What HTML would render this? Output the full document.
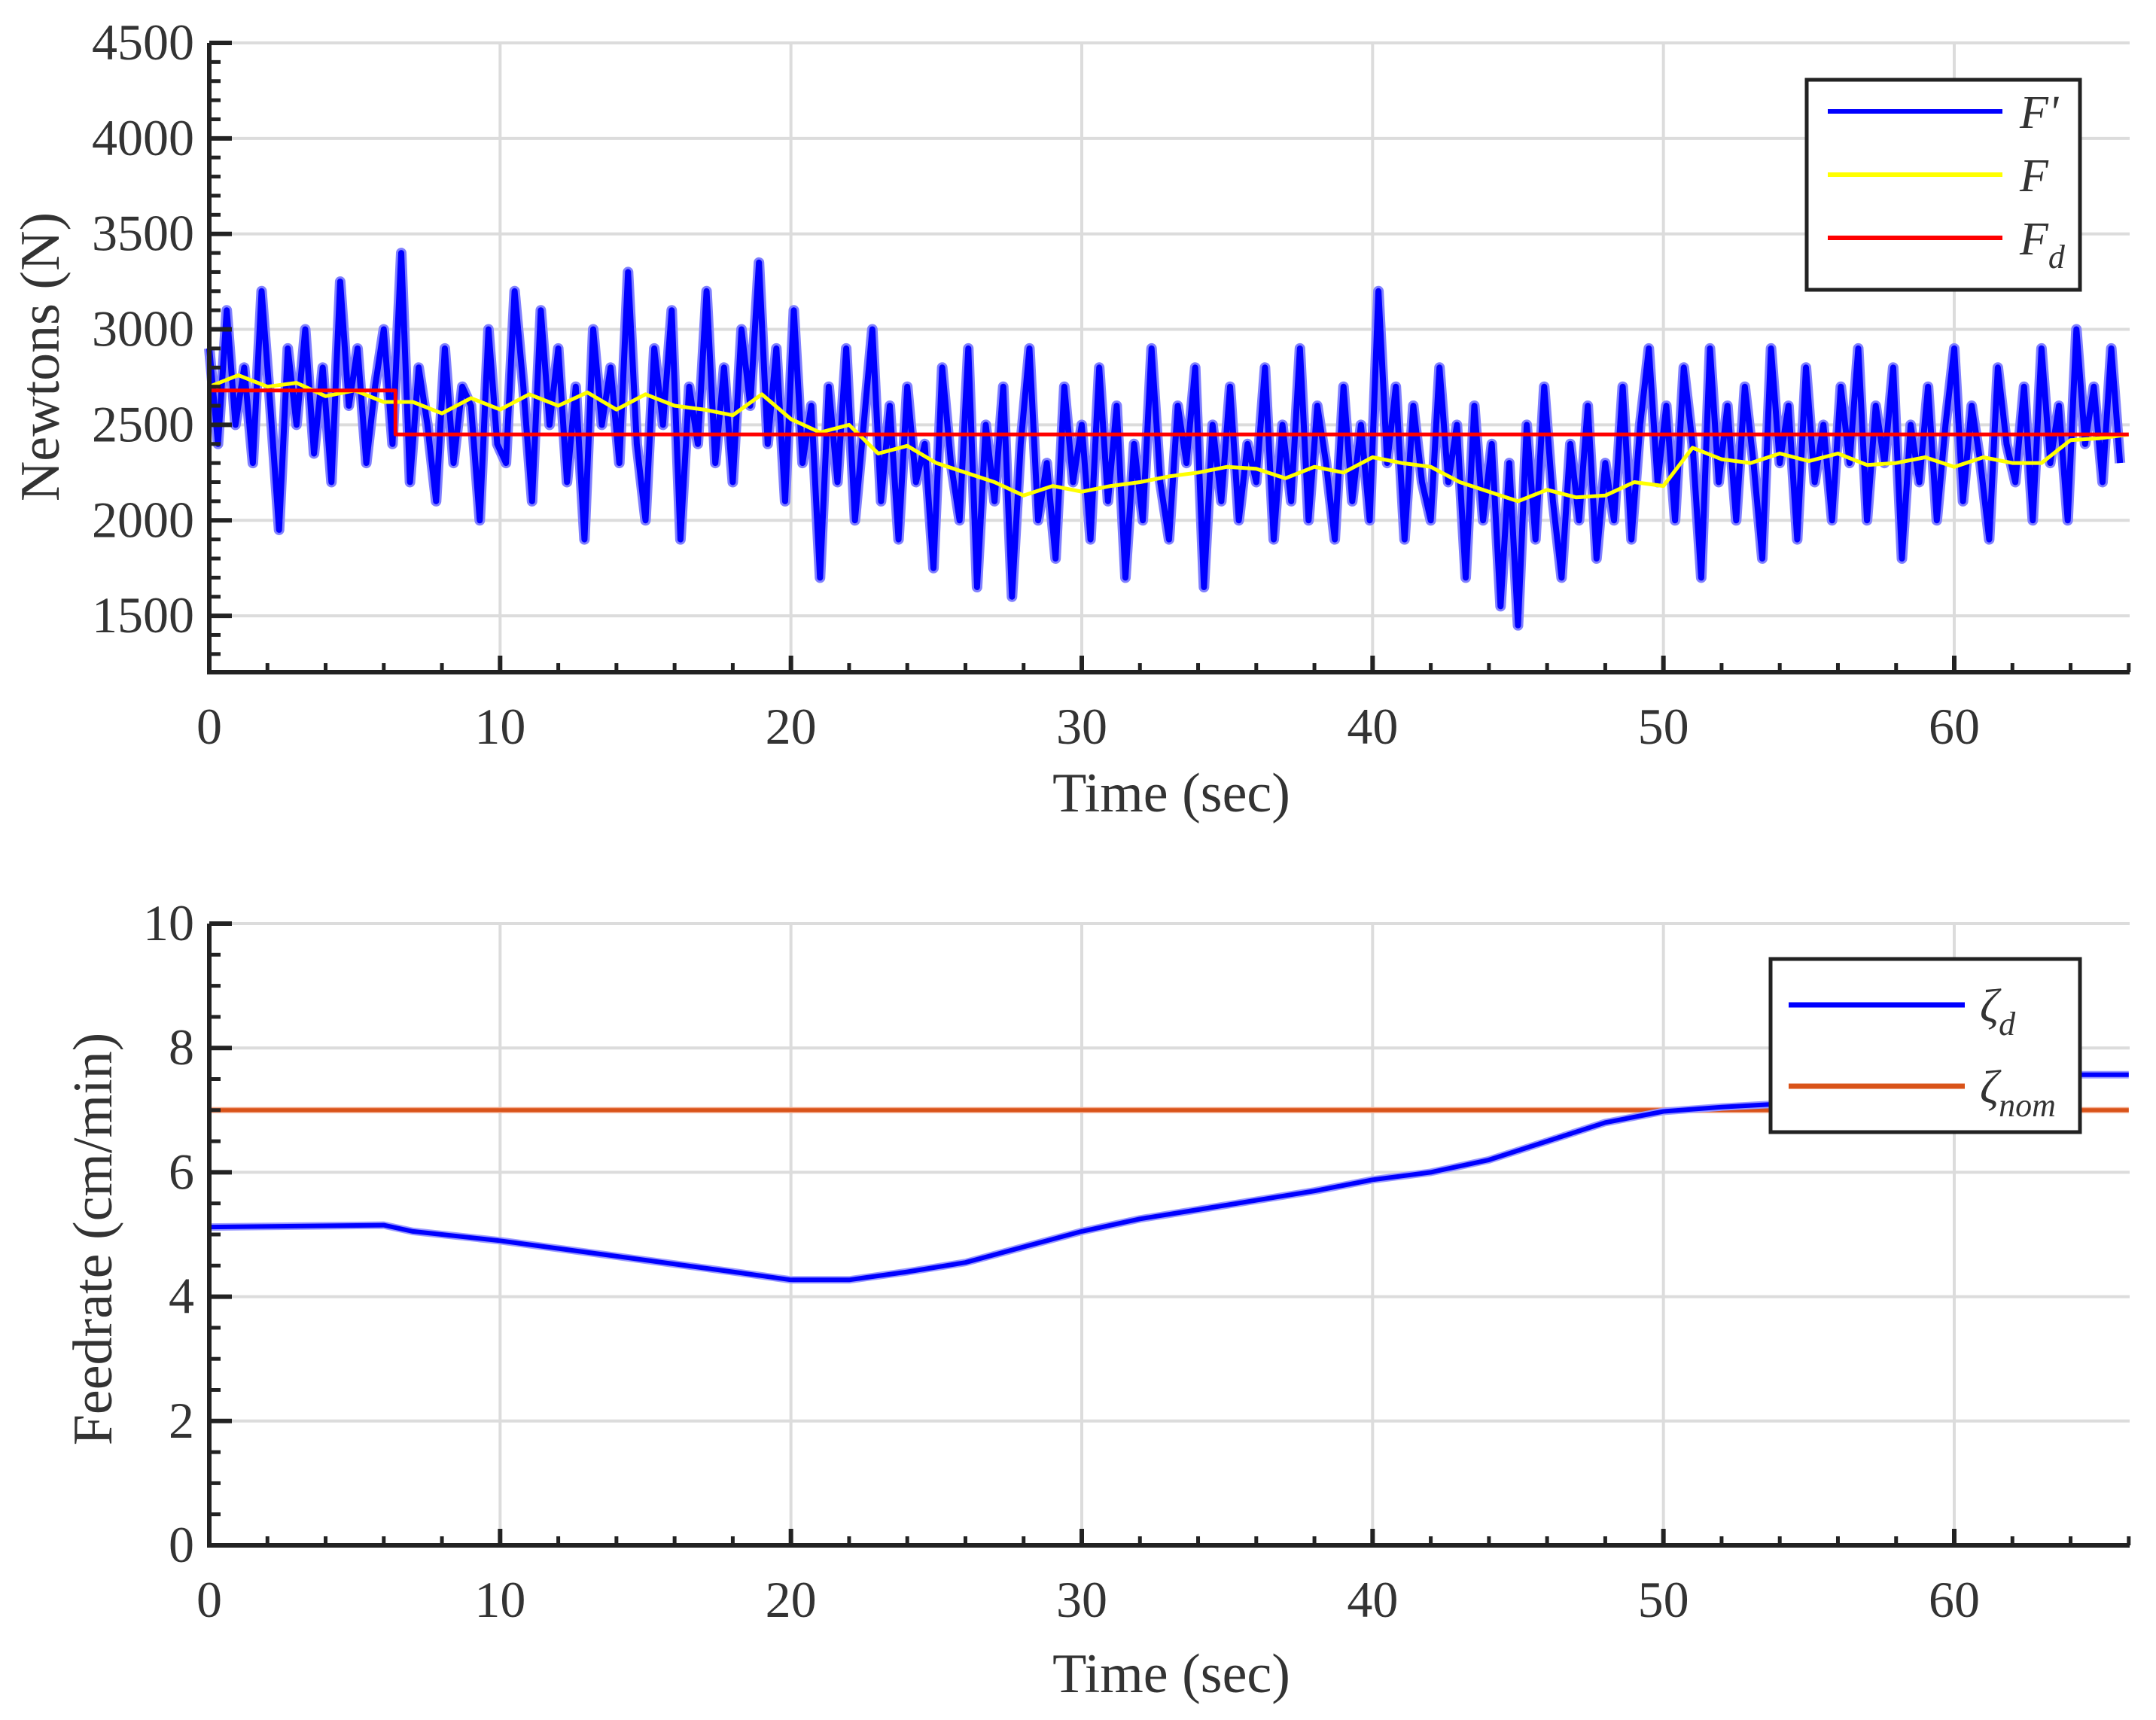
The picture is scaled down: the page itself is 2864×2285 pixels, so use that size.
<!DOCTYPE html>
<html><head><meta charset="utf-8"><style>
html,body{margin:0;padding:0;background:#fff}
svg{display:block}
text{font-family:"Liberation Serif",serif;fill:#333}
</style></head><body>
<svg id="chart" width="2864" height="2285" viewBox="0 0 2864 2285" xmlns="http://www.w3.org/2000/svg">
<g id="top"></g>
<g id="bot"></g>
</svg>
<script>
// ---- data ----
const xTicks = [0,10,20,30,40,50,60];
const topYTicks = [1500,2000,2500,3000,3500,4000,4500];
const botYTicks = [0,2,4,6,8,10];
const fRawDt = 0.3;
const fRaw = [
2900,2400,3100,2500,2800,2300,3200,2600,1950,2900,
2500,3000,2350,2800,2200,3250,2600,2900,2300,2700,
3000,2400,3400,2200,2800,2500,2100,2900,2300,2700,
2600,2000,3000,2400,2300,3200,2700,2100,3100,2500,
2900,2200,2700,1900,3000,2500,2800,2300,3300,2400,
2000,2900,2500,3100,1900,2700,2400,3200,2300,2800,
2200,3000,2600,3350,2400,2900,2100,3100,2300,2600,
1700,2700,2200,2900,2000,2500,3000,2100,2600,1900,
2700,2200,2400,1750,2800,2300,2000,2900,1650,2500,
2100,2700,1600,2400,2900,2000,2300,1800,2700,2200,
2500,1900,2800,2100,2600,1700,2400,2000,2900,2200,
1900,2600,2300,2800,1650,2500,2100,2700,2000,2400,
2200,2800,1900,2500,2100,2900,2000,2600,2300,1900,
2700,2100,2500,2000,3200,2300,2700,1900,2600,2200,
2000,2800,2200,2500,1700,2600,2000,2400,1550,2300,
1450,2500,1900,2700,2100,1700,2400,2000,2600,1800,
2300,2000,2700,1900,2500,2900,2200,2600,2000,2800,
2400,1700,2900,2200,2600,2000,2700,2300,1800,2900,
2300,2600,1900,2800,2200,2500,2000,2700,2300,2900,
2000,2600,2300,2800,1800,2500,2200,2700,2000,2500,
2900,2100,2600,2300,1900,2800,2400,2200,2700,2000,
2900,2300,2600,2000,3000,2400,2700,2200,2900,2300];
const fFiltDt = 1;
const fFilt = [2700,2760,2700,2720,2650,2680,2620,2620,2560,2640,2580,2660,2600,2670,2580,2660,2600,2580,2550,2660,2530,2460,2500,2350,2390,2300,2250,2200,2130,2180,2150,2180,2200,2230,2250,2280,2270,2220,2280,2250,2330,2300,2280,2200,2150,2100,2160,2120,2130,2200,2180,2380,2320,2300,2350,2310,2350,2290,2300,2330,2280,2330,2300,2300,2420,2430,2450];
const fdTimes = [0,6.4,6.4,66];
const fdValues = [2680,2680,2450,2450];
const zetaTimes = [0,6,7,10,14,18,20,22,24,26,28,30,32,34,36,38,40,42,44,46,48,50,52,54,56,58,60,62,64,66];
const zetaValues = [5.12,5.15,5.05,4.9,4.65,4.4,4.27,4.27,4.4,4.55,4.8,5.05,5.25,5.4,5.55,5.7,5.88,6.0,6.2,6.5,6.8,6.98,7.05,7.1,7.2,7.3,7.4,7.5,7.57,7.57];
const zetaNom = 7;

// ---- axes ----
const X0=278, X1=2829;
const xs = t => X0 + t*(2318/60);
const T_TOP=57, T_BOT=893;
const yTop = v => 57 + (4500-v)*0.2537;
const B_TOP=1227, B_BOT=2053;
const yBot = v => 2053 - v*82.6;
const NS="http://www.w3.org/2000/svg";
function mk(parent,tag,attrs,txt){const e=document.createElementNS(NS,tag);for(const k in attrs)e.setAttribute(k,attrs[k]);if(txt!==undefined)e.textContent=txt;parent.appendChild(e);return e;}

function axes(g, yTicks, yf, yTop_, yBot_){
  xTicks.forEach(t=>{const l=mk(g,'line',{x1:xs(t),x2:xs(t),y1:yTop_,y2:yBot_,stroke:'#dcdcdc','stroke-width':4});
    
    });
  yTicks.forEach(v=>{const l=mk(g,'line',{x1:X0,x2:X1,y1:yf(v),y2:yf(v),stroke:'#dcdcdc','stroke-width':4});
    
    });
}
function frame(g, yTicks, yf, yTop_, yBot_, yMinorStep, yMin, yMax){
  const ax=mk(g,'path',{d:`M${X0},${yTop_} V${yBot_} H${X1}`,fill:'none',stroke:'#222','stroke-width':6});
  
  
  for(let t=0;t<=66;t+=2){const major=t%10===0;
    mk(g,'line',{x1:xs(t),x2:xs(t),y1:yBot_,y2:yBot_-(major?22:12),stroke:'#222','stroke-width':major?6:5});}
  for(let v=yMin;v<=yMax+1e-9;v+=yMinorStep){const y=yf(v);if(y<yTop_-1||y>yBot_)continue;
    const major=yTicks.some(k=>Math.abs(k-v)<1e-6);
    mk(g,'line',{x1:X0,x2:X0+(major?30:15),y1:y,y2:y,stroke:'#222','stroke-width':major?6:5});}
  xTicks.forEach(t=>{const e=mk(g,'text',{x:xs(t),y:yBot_+95,'text-anchor':'middle','font-size':68},String(t));
    
    });
  yTicks.forEach(v=>{const e=mk(g,'text',{x:258,y:yf(v)+22,'text-anchor':'end','font-size':68},String(v));
    
    });
}
function poly(g, ts, vs, yf, color, w, name){
  const pts=ts.map((t,i)=>xs(t).toFixed(1)+','+yf(vs[i]).toFixed(1)).join(' ');
  const p=mk(g,'polyline',{points:pts,fill:'none',stroke:color,'stroke-width':w,'stroke-linejoin':'round'});
  
  
  return p;
}

// ---- top plot ----
const gt=document.getElementById('top');
axes(gt, topYTicks, yTop, T_TOP, T_BOT);
const rawT=fRaw.map((_,i)=>i*fRawDt);
poly(gt, rawT, fRaw, yTop, '#8080ff', 14, 'f-prime-halo');
poly(gt, rawT, fRaw, yTop, '#0000ff', 8, 'f-prime-line');
poly(gt, fFilt.map((_,i)=>i*fFiltDt), fFilt, yTop, '#ffff00', 5, 'f-filtered-line');
poly(gt, fdTimes, fdValues, yTop, '#ff0000', 5, 'f-desired-line');
frame(gt, topYTicks, yTop, T_TOP, T_BOT, 100, 1200, 4500);
let t1=mk(gt,'text',{x:1556,y:1078,'text-anchor':'middle','font-size':74},'Time (sec)');


let t2=mk(gt,'text',{x:0,y:0,'text-anchor':'middle','font-size':74,transform:'translate(78,474) rotate(-90)'},'Newtons (N)');


let lg=mk(gt,'g',{});


mk(lg,'rect',{x:2400,y:106,width:363,height:279,fill:'#fff',stroke:'#222','stroke-width':5});
[['#0000ff',"F'",''],['#ffff00','F',''],['#ff0000','F','d']].forEach((e,i)=>{
  const y=148+i*84;
  const l=mk(lg,'line',{x1:2428,x2:2660,y1:y,y2:y,stroke:e[0],'stroke-width':6});
  
  
  const tx=mk(lg,'text',{x:2683,y:y+22,'font-size':62,'font-style':'italic'},e[1]);
  
  
  if(e[2]){mk(tx,'tspan',{'font-size':44,dy:18},e[2]);}
});

// ---- bottom plot ----
const gb=document.getElementById('bot');
axes(gb, botYTicks, yBot, B_TOP, B_BOT);
poly(gb,[0,66],[zetaNom,zetaNom],yBot,'#f2a98a',8,'zeta-nom-halo');
poly(gb,[0,66],[zetaNom,zetaNom],yBot,'#d95319',5,'zeta-nom-line');
poly(gb,zetaTimes,zetaValues,yBot,'#9a9aff',10,'zeta-d-halo');
poly(gb,zetaTimes,zetaValues,yBot,'#0000ff',6,'zeta-d-line');
frame(gb, botYTicks, yBot, B_TOP, B_BOT, 0.5, 0, 10);
let t3=mk(gb,'text',{x:1556,y:2248,'text-anchor':'middle','font-size':74},'Time (sec)');


let t4=mk(gb,'text',{x:0,y:0,'text-anchor':'middle','font-size':74,transform:'translate(148,1646) rotate(-90)'},'Feedrate (cm/min)');


let lb=mk(gb,'g',{});


mk(lb,'rect',{x:2352,y:1274,width:411,height:230,fill:'#fff',stroke:'#222','stroke-width':5});
[['#0000ff','d'],['#d95319','nom']].forEach((e,i)=>{
  const y=1335+i*108;
  const l=mk(lb,'line',{x1:2376,x2:2610,y1:y,y2:y,stroke:e[0],'stroke-width':7});
  
  
  const tx=mk(lb,'text',{x:2630,y:y+22,'font-size':62,'font-style':'italic'},'ζ');
  
  
  mk(tx,'tspan',{'font-size':44,dy:18},e[1]);
});
</script>
</body></html>
